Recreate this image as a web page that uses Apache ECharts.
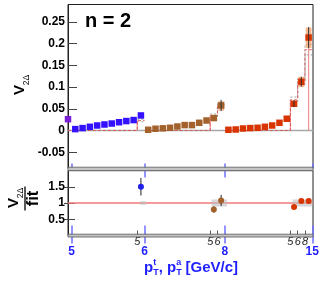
<!DOCTYPE html>
<html><head><meta charset="utf-8">
<script src="https://cdn.jsdelivr.net/npm/echarts@6/dist/echarts.min.js"></script>
<style>html,body{margin:0;padding:0;background:#fff}#c{width:332px;height:283px}</style>
</head><body><div id="c"></div>
<script>
// ---- data (x = bin index along concatenated pT axis) ----
const purplePts = [[0, 0.026]];
const blueY  = [0.0032,0.0055,0.0085,0.0115,0.0138,0.016,0.019,0.0217,0.024,0.0346];          // x = 1..10
const brownY = [0.0016,0.004,0.005,0.0062,0.0092,0.0124,0.0124,0.0177,0.023,0.0286,0.0576];   // x = 11..21
const redY   = [0.0016,0.0023,0.0046,0.0055,0.0062,0.0085,0.0115,0.0177,0.027,0.0615,0.112,0.214]; // x = 22..33
const blueX0 = 1, brownX0 = 11, redX0 = 22;
// statistical error bars [x, lo, hi]
const topErr = [[21,0.0446,0.0706],[31,0.0535,0.0695],[32,0.101,0.123],[33,0.190,0.238]];
// systematic boxes [x0, x1, lo, hi]
const topSys = [[20.6,21.4,0.0454,0.0668],[30.6,31.4,0.056,0.068],[31.6,32.4,0.100,0.124],[32.6,33.4,0.190,0.237]];
// fit (step, per trigger section) and its band
const fitStep = [
  [[0,0],[9.5,0],[9.5,0.023],[10.5,0.023]],
  [[10.5,0],[19.5,0],[19.5,0.034],[20.5,0.034],[20.5,0.059],[21.5,0.059]],
  [[21.5,0],[30.5,0],[30.5,0.0706],[31.5,0.0706],[31.5,0.113],[32.5,0.113],[32.5,0.186],[33.5,0.186]]
];
const fitVert = [[9.5,0,0.023],[19.5,0,0.034],[30.5,0,0.0706],[33,0,0.205]];
const fitHi = [[[9.5,0.026],[10.5,0.026]],[[19.5,0.038],[20.5,0.038],[20.5,0.065],[21.5,0.065]],[[30.5,0.077],[31.5,0.077],[31.5,0.121],[32.5,0.121],[32.5,0.198],[33.5,0.198]]];
const fitLo = [[[9.5,0.020],[10.5,0.020]],[[19.5,0.030],[20.5,0.030],[20.5,0.053],[21.5,0.053]],[[30.5,0.064],[31.5,0.064],[31.5,0.105],[32.5,0.105],[32.5,0.174],[33.5,0.174]]];
// ratio panel
const ratioBlue  = [[10, 1.50]];
const ratioBrown = [[20, 0.80],[21, 1.08]];
const ratioRed   = [[31, 0.88],[32, 1.06],[33, 1.06]];
const ratioErr = [[10,1.23,1.77],[20,0.70,0.90],[21,0.91,1.25],[31,0.83,0.93],[32,1.01,1.11],[33,1.02,1.10]];
const ratioSys = [[9.9,10.7,0.945,1.055],[19.7,21.8,0.89,1.11],[30.8,33.5,0.89,1.11]];
// axis ticks / labels
const topTicks = [-0.05,0,0.05,0.1,0.15,0.2,0.25];
const topTickLabels = ['-0.05','0','0.05','0.1','0.15','0.2','0.25'];
const botTicks = [0.5,1,1.5];
const botTickLabels = ['0.5','1','1.5'];
const trigEdges = [0.5,10.5,21.5,33.5];
const trigLabels = ['5','6','8','15'];
const assocEdges = [9.5,19.5,20.5,30.5,31.5,32.5];
const assocLabels = ['5','5','6','5','6','8'];

const XMAX = 33.6;
const FF = 'Liberation Sans, Arial, Helvetica, sans-serif';
const BLUE = '#1f1fff', TICKBLUE = '#7070ff';

function lab(vals, labels){ return v => { const i = vals.findIndex(t => Math.abs(t - v) < 1e-9); return i >= 0 ? labels[i] : ''; }; }

function segRender(color, width){
  return function(params, api){
    const a = api.coord([api.value(0), api.value(1)]);
    const b = api.coord([api.value(0), api.value(2)]);
    return {type:'line', shape:{x1:a[0],y1:a[1],x2:b[0],y2:b[1]}, style:{stroke:color, lineWidth:width}};
  };
}
function boxRender(fill){
  return function(params, api){
    const a = api.coord([api.value(0), api.value(3)]);
    const b = api.coord([api.value(1), api.value(2)]);
    return {type:'rect', shape:{x:a[0], y:a[1], width:b[0]-a[0], height:b[1]-a[1]}, style:{fill:fill}};
  };
}

const chart = echarts.init(document.getElementById('c'), null, {renderer:'canvas'});

const xBase = {type:'value', min:0, max:XMAX, splitLine:{show:false}, axisLine:{show:false, onZero:false}, axisLabel:{show:false}, axisTick:{show:false}};

const series = [];
function sq(data, color){ return {type:'scatter', xAxisIndex:0, yAxisIndex:0, data:data, symbol:'rect', symbolSize:6.5, itemStyle:{color:color, opacity:1}, z:6, clip:false}; }
function dot(data, color){ return {type:'scatter', xAxisIndex:1, yAxisIndex:1, data:data, symbol:'circle', symbolSize:6, itemStyle:{color:color, opacity:1}, z:6}; }
// top panel
series.push({type:'line', xAxisIndex:0, yAxisIndex:0, data:[[0,0],[XMAX,0]], symbol:'none', lineStyle:{color:'#a8a8a8', width:1.5}, silent:true, z:1});
fitHi.concat(fitLo).forEach(d => series.push({type:'line', xAxisIndex:0, yAxisIndex:0, data:d, symbol:'none', lineStyle:{color:'#8a8a8a', width:0.8, type:[2,2]}, z:2}));
fitStep.forEach(d => series.push({type:'line', xAxisIndex:0, yAxisIndex:0, data:d, symbol:'none', lineStyle:{color:'#e04848', width:0.8, type:[3,2]}, z:3}));
series.push({type:'custom', xAxisIndex:0, yAxisIndex:0, data:fitVert, renderItem:segRender('#f08888',1.1), z:3});
series.push({type:'custom', xAxisIndex:0, yAxisIndex:0, data:topSys, renderItem:boxRender('rgba(246,160,110,0.75)'), z:4});
series.push(sq(purplePts, '#7a1fd6'));
series.push(sq(blueY.map((v,i)=>[blueX0+i,v]), '#3311ff'));
series.push(sq(brownY.map((v,i)=>[brownX0+i,v]), '#a3622c'));
series.push(sq(redY.map((v,i)=>[redX0+i,v]), '#d83400'));
series.push({type:'custom', xAxisIndex:0, yAxisIndex:0, data:topErr, renderItem:segRender('#333',1), z:7});
// ratio panel
series.push({type:'line', xAxisIndex:1, yAxisIndex:1, data:[[0,1],[XMAX,1]], symbol:'none', lineStyle:{color:'#f07878', width:1.4}, z:2});
series.push({type:'custom', xAxisIndex:1, yAxisIndex:1, data:ratioSys, renderItem:boxRender('rgba(190,190,190,0.6)'), z:3});
series.push({type:'custom', xAxisIndex:1, yAxisIndex:1, data:ratioErr, renderItem:segRender('#222',1), z:4});
series.push(dot(ratioBlue, '#2020e8'));
series.push(dot(ratioBrown, '#a3622c'));
series.push(dot(ratioRed, '#d83400'));

function txt(x, y, s, size, opts){
  return Object.assign({type:'text', x:x, y:y, z:60, style:Object.assign({text:s, fontSize:size, fontWeight:'bold', fontFamily:FF, fill:'#000', align:'left', verticalAlign:'middle'}, (opts||{}).style||{})}, (opts||{}).el||{});
}
const R90 = {el:{rotation:Math.PI/2}};

const option = {
  animation:false,
  backgroundColor:'#fff',
  grid:[
    {left:68, right:19, top:4.5, bottom:114.5, show:true, borderColor:'#222', borderWidth:1, backgroundColor:'transparent'},
    {left:68, right:19, top:170.5, bottom:47.5, show:true, borderColor:'#222', borderWidth:1, backgroundColor:'transparent'}
  ],
  xAxis:[
    Object.assign({}, xBase, {gridIndex:0, position:'bottom',
      axisTick:{show:true, inside:true, length:5, customValues:trigEdges, lineStyle:{color:TICKBLUE, width:1.5}}}),
    Object.assign({}, xBase, {gridIndex:1, position:'bottom',
      axisTick:{show:true, inside:true, length:10, customValues:trigEdges, lineStyle:{color:TICKBLUE, width:1.5}},
      axisLabel:{show:true, customValues:trigEdges, formatter:lab(trigEdges,trigLabels), margin:10, color:BLUE, fontWeight:'bold', fontSize:12, fontFamily:FF}}),
    Object.assign({}, xBase, {gridIndex:1, position:'bottom', offset:0,
      axisTick:{show:true, inside:false, length:8, customValues:trigEdges, lineStyle:{color:TICKBLUE, width:1.5}}}),
    Object.assign({}, xBase, {gridIndex:1, position:'bottom', offset:0,
      axisTick:{show:true, inside:true, length:5, customValues:assocEdges, lineStyle:{color:'#333', width:0.8}},
      axisLabel:{show:true, customValues:assocEdges, formatter:lab(assocEdges,assocLabels), margin:1, color:'#222', fontStyle:'italic', fontSize:11, fontFamily:FF}}),
    Object.assign({}, xBase, {gridIndex:1, position:'top',
      axisTick:{show:true, inside:true, length:7, customValues:[10.5,21.5], lineStyle:{color:TICKBLUE, width:1.5}}})
  ],
  yAxis:[
    {type:'value', gridIndex:0, position:'left', min:-0.0875, max:0.29, splitLine:{show:false},
     axisLine:{show:true, lineStyle:{color:'#222', width:1}},
     axisTick:{show:true, inside:true, length:9, customValues:topTicks, lineStyle:{color:'#444', width:1}},
     axisLabel:{show:true, customValues:topTicks, formatter:lab(topTicks,topTickLabels), margin:3, color:'#000', fontWeight:'bold', fontSize:12, fontFamily:FF}},
    {type:'value', gridIndex:1, position:'left', min:0, max:2, splitLine:{show:false},
     axisLine:{show:true, lineStyle:{color:'#222', width:1}},
     axisTick:{show:true, inside:true, length:7, customValues:botTicks, lineStyle:{color:'#444', width:1}},
     axisLabel:{show:true, customValues:botTicks, formatter:lab(botTicks,botTickLabels), margin:3, color:'#000', fontWeight:'bold', fontSize:12, fontFamily:FF}},
    {type:'value', gridIndex:1, position:'right', min:0, max:2, splitLine:{show:false},
     axisLine:{show:false},
     axisTick:{show:true, inside:true, length:4, customValues:botTicks, lineStyle:{color:'#444', width:1}},
     axisLabel:{show:false}}
  ],
  series: series,
  graphic:[
    {type:'rect', shape:{x:68, y:167.2, width:245, height:3.6}, style:{fill:'#c4c4c4', stroke:'#555', lineWidth:0.8}, z:50},
    {type:'rect', shape:{x:68, y:234.2, width:245, height:2.8}, style:{fill:'#c4c4c4', stroke:'#555', lineWidth:0.8}, z:50},
    txt(85, 21, 'n = 2', 20),
    // top y title
    txt(19.5, 90, 'V', 15, {el:{rotation:Math.PI/2}, style:{align:'center'}}),
    txt(27, 80, '2Δ', 8.5, {el:{rotation:Math.PI/2}, style:{align:'center', fontWeight:'normal'}}),
    // ratio y title
    txt(13.5, 203, 'V', 15, {el:{rotation:Math.PI/2}, style:{align:'center'}}),
    txt(21, 193, '2Δ', 8.5, {el:{rotation:Math.PI/2}, style:{align:'center', fontWeight:'normal'}}),
    {type:'line', shape:{x1:25, y1:186.5, x2:25, y2:210.5}, style:{stroke:'#000', lineWidth:1.3}, z:60},
    txt(33, 198.5, 'fit', 16.5, {el:{rotation:Math.PI/2}, style:{align:'center'}}),
    // x title
    txt(144, 268, 'p', 15, {style:{fill:BLUE}}),
    txt(153.2, 262.5, 't', 9, {style:{fill:BLUE}}),
    txt(153.2, 273, 'T', 9, {style:{fill:BLUE}}),
    txt(158.7, 268, ',', 15, {style:{fill:BLUE}}),
    txt(167, 268, 'p', 15, {style:{fill:BLUE}}),
    txt(176.2, 262.5, 'a', 9, {style:{fill:BLUE}}),
    txt(176.2, 273, 'T', 9, {style:{fill:BLUE}}),
    txt(185.5, 268, '[GeV/c]', 15, {style:{fill:BLUE}})
  ]
};
chart.setOption(option);
</script></body></html>
